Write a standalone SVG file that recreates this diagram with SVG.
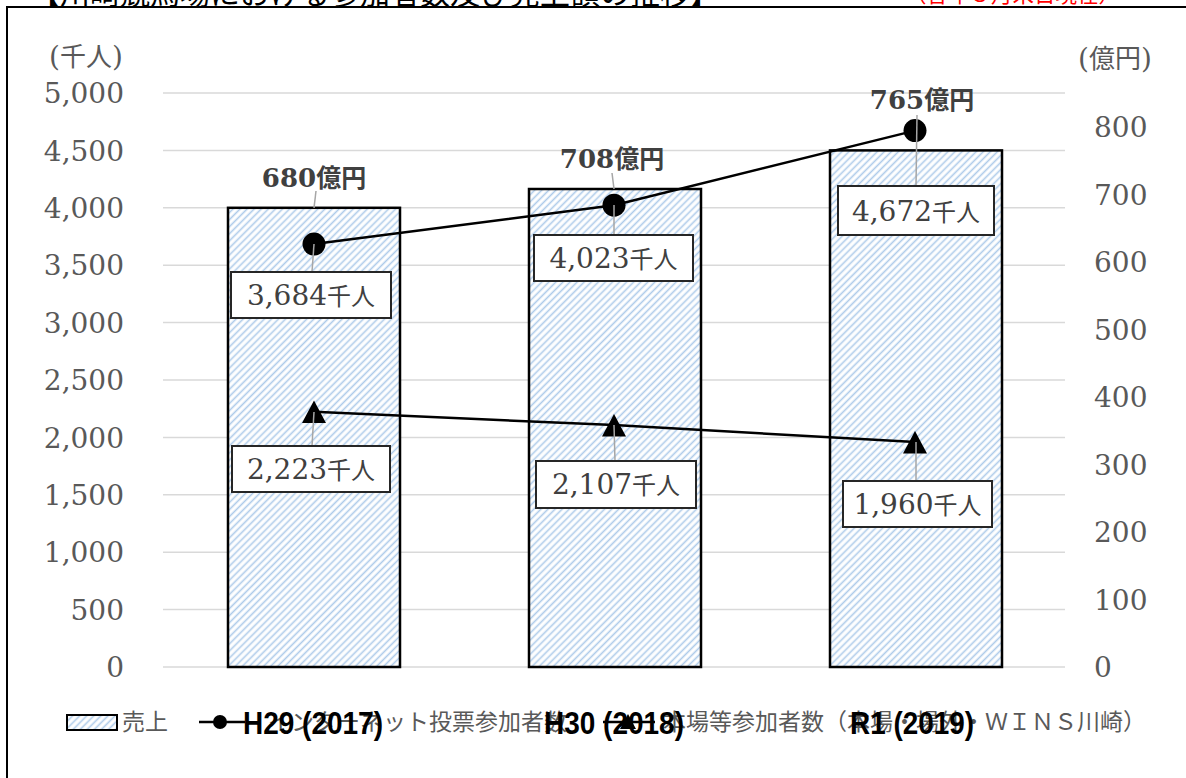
<svg xmlns="http://www.w3.org/2000/svg" width="1186" height="778" viewBox="0 0 1186 778">
<style>
.grid{stroke:#d9d9d9;stroke-width:1.5}
.ax{font-family:"DejaVu Serif","Liberation Serif",serif;font-size:28px;fill:#595959}
.axj{font-family:"Noto Sans CJK JP",sans-serif;font-size:26px;fill:#595959}
.bar{fill:url(#hatch);stroke:#000;stroke-width:2.5}
.ser{fill:none;stroke:#000;stroke-width:2.5}
.lead{stroke:#a6a6a6;stroke-width:1.5}
.box{fill:#fff;stroke:#262626;stroke-width:2}
.bn{font-family:"DejaVu Serif","Liberation Serif",serif;font-size:28px;fill:#404040}
.bj{font-family:"Noto Sans CJK JP",sans-serif;font-size:24px;fill:#404040}
.sn{font-family:"DejaVu Serif","Liberation Serif",serif;font-size:26px;font-weight:bold;fill:#404040}
.sj{font-family:"Noto Sans CJK JP",sans-serif;font-size:25px;font-weight:bold;fill:#404040}
.cat{font-family:"Liberation Sans",Arial,sans-serif;font-size:32px;font-weight:bold;fill:#000}
.leg{font-family:"Noto Sans CJK JP",sans-serif;font-size:23px;fill:#595959}
</style>
<defs>
<pattern id="hatch" patternUnits="userSpaceOnUse" width="5" height="5" patternTransform="rotate(45)">
<rect width="5" height="5" fill="#fff"/>
<line x1="2.5" y1="0" x2="2.5" y2="5" stroke="#aecbea" stroke-width="1.6"/>
</pattern>
</defs>
<rect width="1186" height="778" fill="#fff"/>
<g id="title">
<text x="30" y="4" font-family="Noto Sans CJK JP,sans-serif" font-size="30" fill="#000">【川崎競馬場における参加者数及び売上額の推移】</text>
<text x="905" y="2" font-family="Noto Sans CJK JP,sans-serif" font-size="21.5" fill="#ff0000">（各年３月末日現在）</text>
</g>
<g id="frame">
<path d="M7 786 V7 H1190" fill="none" stroke="#000" stroke-width="2"/>
</g>
<g id="grid">
<line class="grid" x1="163" y1="667" x2="1065" y2="667"/>
<line class="grid" x1="163" y1="609.6" x2="1065" y2="609.6"/>
<line class="grid" x1="163" y1="552.2" x2="1065" y2="552.2"/>
<line class="grid" x1="163" y1="494.8" x2="1065" y2="494.8"/>
<line class="grid" x1="163" y1="437.4" x2="1065" y2="437.4"/>
<line class="grid" x1="163" y1="380" x2="1065" y2="380"/>
<line class="grid" x1="163" y1="322.6" x2="1065" y2="322.6"/>
<line class="grid" x1="163" y1="265.2" x2="1065" y2="265.2"/>
<line class="grid" x1="163" y1="207.8" x2="1065" y2="207.8"/>
<line class="grid" x1="163" y1="150.4" x2="1065" y2="150.4"/>
<line class="grid" x1="163" y1="93" x2="1065" y2="93"/>
</g>
<g id="axis-left" text-anchor="end">
<text class="ax" x="124" y="677">0</text>
<text class="ax" x="124" y="619.5">500</text>
<text class="ax" x="124" y="562">1,000</text>
<text class="ax" x="124" y="504.5">1,500</text>
<text class="ax" x="124" y="447.5">2,000</text>
<text class="ax" x="124" y="390">2,500</text>
<text class="ax" x="124" y="332.5">3,000</text>
<text class="ax" x="124" y="275">3,500</text>
<text class="ax" x="124" y="217.5">4,000</text>
<text class="ax" x="124" y="160.5">4,500</text>
<text class="ax" x="124" y="103">5,000</text>
<text x="86" y="66" text-anchor="middle"><tspan class="ax">(</tspan><tspan class="axj">千人</tspan><tspan class="ax">)</tspan></text>
</g>
<g id="axis-right">
<text class="ax" x="1094" y="677">0</text>
<text class="ax" x="1094" y="609.5">100</text>
<text class="ax" x="1094" y="542">200</text>
<text class="ax" x="1094" y="474.5">300</text>
<text class="ax" x="1094" y="407">400</text>
<text class="ax" x="1094" y="339.5">500</text>
<text class="ax" x="1094" y="272">600</text>
<text class="ax" x="1094" y="204.5">700</text>
<text class="ax" x="1094" y="137">800</text>
<text x="1115" y="68" text-anchor="middle"><tspan class="ax">(</tspan><tspan class="axj">億円</tspan><tspan class="ax">)</tspan></text>
</g>
<g id="bars">
<rect id="bar-h29" class="bar" x="228" y="207.8" width="172" height="459.2"/>
<rect id="bar-h30" class="bar" x="529" y="189" width="172" height="478"/>
<rect id="bar-r1" class="bar" x="830" y="150.4" width="172" height="516.6"/>
</g>
<g id="connectors">
<polyline class="ser" points="314,244.1 614,205.2 915,130.6"/>
<polyline class="ser" points="314,411.8 614,425.1 915,442"/>
</g>
<g id="markers">
<circle cx="314" cy="244.1" r="11.5" fill="#000"/>
<circle cx="614" cy="205.2" r="11.5" fill="#000"/>
<circle cx="915" cy="130.6" r="11.5" fill="#000"/>
<polygon points="314,400.5 326,423 302,423" fill="#000"/>
<polygon points="614,414 626,436.5 602,436.5" fill="#000"/>
<polygon points="915,431 927,453.5 903,453.5" fill="#000"/>
</g>
<g id="leaders">
<line class="lead" x1="316" y1="191" x2="314" y2="207.8"/>
<line class="lead" x1="314" y1="244" x2="312" y2="272"/>
<line class="lead" x1="314" y1="412" x2="312" y2="446"/>
<line class="lead" x1="612" y1="173" x2="614" y2="189"/>
<line class="lead" x1="614" y1="205" x2="614" y2="235"/>
<line class="lead" x1="614" y1="425" x2="615" y2="461"/>
<line class="lead" x1="917" y1="115" x2="916" y2="186"/>
<line class="lead" x1="916" y1="442" x2="916" y2="481"/>
</g>
<g id="sales-labels" text-anchor="middle">
<text x="314" y="187"><tspan class="sn">680</tspan><tspan class="sj">億円</tspan></text>
<text x="612" y="168"><tspan class="sn">708</tspan><tspan class="sj">億円</tspan></text>
<text x="922" y="109"><tspan class="sn">765</tspan><tspan class="sj">億円</tspan></text>
</g>
<g id="label-3684">
<rect class="box" x="231" y="272" width="160" height="46"/>
<text x="311" y="305" text-anchor="middle"><tspan class="bn">3,684</tspan><tspan class="bj">千人</tspan></text>
</g>
<g id="label-2223">
<rect class="box" x="232" y="446" width="158" height="46"/>
<text x="311" y="479" text-anchor="middle"><tspan class="bn">2,223</tspan><tspan class="bj">千人</tspan></text>
</g>
<g id="label-4023">
<rect class="box" x="534" y="235" width="159" height="46"/>
<text x="613.5" y="268" text-anchor="middle"><tspan class="bn">4,023</tspan><tspan class="bj">千人</tspan></text>
</g>
<g id="label-2107">
<rect class="box" x="536" y="461" width="160" height="47"/>
<text x="616" y="494" text-anchor="middle"><tspan class="bn">2,107</tspan><tspan class="bj">千人</tspan></text>
</g>
<g id="label-4672">
<rect class="box" x="838" y="186" width="156" height="49"/>
<text x="916" y="221" text-anchor="middle"><tspan class="bn">4,672</tspan><tspan class="bj">千人</tspan></text>
</g>
<g id="label-1960">
<rect class="box" x="843" y="481" width="149" height="46"/>
<text x="917.5" y="514" text-anchor="middle"><tspan class="bn">1,960</tspan><tspan class="bj">千人</tspan></text>
</g>
<g id="legend">
<rect x="67" y="715" width="50" height="15" fill="url(#hatch)" stroke="#000" stroke-width="2"/>
<text class="leg" x="122" y="730">売上</text>
<line x1="199" y1="722" x2="245" y2="722" stroke="#000" stroke-width="2.5"/>
<circle cx="220" cy="722" r="7" fill="#000"/>
<text class="leg" x="268" y="730">インターネット投票参加者数</text>
<line x1="603" y1="722" x2="655" y2="722" stroke="#000" stroke-width="2.5"/>
<polygon points="628,714 636,729 620,729" fill="#000"/>
<text class="leg" x="663" y="730">本場等参加者数（本場・場外・ＷＩＮＳ川崎）</text>
</g>
<g id="categories" text-anchor="middle">
<text class="cat" x="313" y="734" textLength="140" lengthAdjust="spacingAndGlyphs">H29 (2017)</text>
<text class="cat" x="614" y="734" textLength="140" lengthAdjust="spacingAndGlyphs">H30 (2018)</text>
<text class="cat" x="912" y="734" textLength="124" lengthAdjust="spacingAndGlyphs">R1 (2019)</text>
</g>
</svg>
